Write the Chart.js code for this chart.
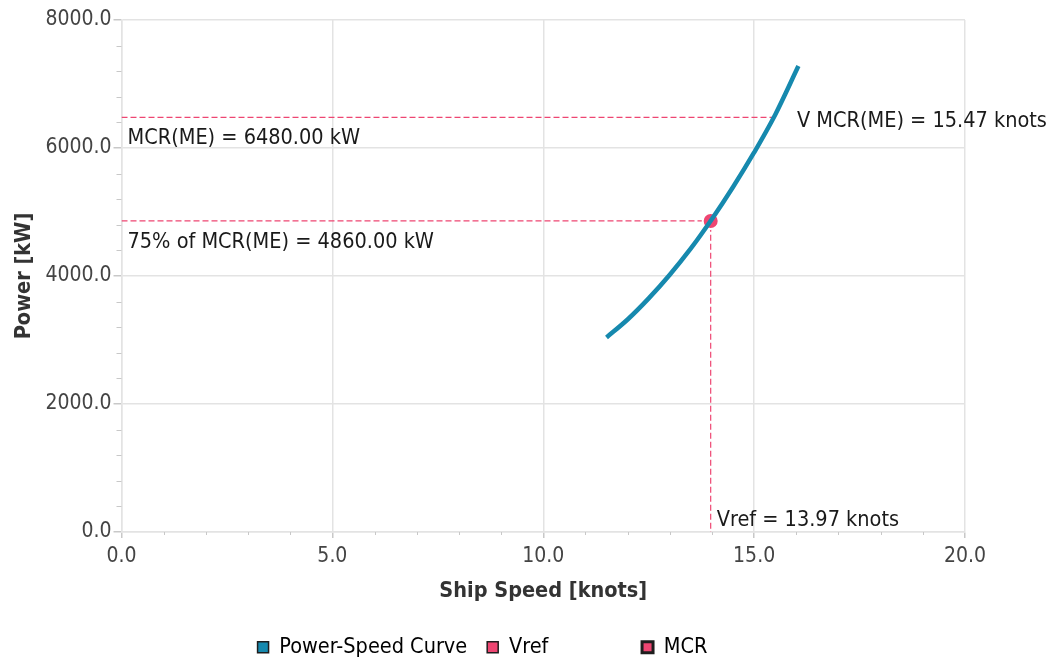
<!DOCTYPE html>
<html>
<head>
<meta charset="utf-8">
<script src="https://cdn.jsdelivr.net/npm/chart.js@4"></script>
<style>
  html, body { margin: 0; padding: 0; background: #fff; }
  canvas { display: block; }
</style>
</head>
<body>
<canvas id="powerChart" width="1054" height="662"></canvas>
<script>
// Power-speed curve
const curveSpeed = [11.5, 12.0, 12.5, 13.0, 13.5, 14.0, 14.5, 15.0, 15.5, 16.05];
const curvePower = [3040, 3320, 3650, 4020, 4430, 4890, 5390, 5930, 6520, 7280];

// Reference points
const mcrPower = 6480;
const mcrSpeed = 15.47;
const vrefPower = 4860; // 75% of MCR
const vrefSpeed = 13.97;

const xTicks = [0, 5, 10, 15, 20];
const yTicks = [0, 2000, 4000, 6000, 8000];
const legendLabels = ['Power-Speed Curve', 'Vref', 'MCR'];

const FONT = '"DejaVu Sans Condensed", "DejaVu Sans", sans-serif';
const blue = '#1689ae';
const pink = '#ee4672';
const gridColor = '#e3e3e3';
const tickColor = '#c8c8c8';
const labelColor = '#444';

// short minor tick marks between the labelled ones
const minorTicks = {
  id: 'minorTicks',
  afterDraw(chart) {
    const { ctx, scales: { x, y }, chartArea: a } = chart;
    ctx.save();
    ctx.strokeStyle = tickColor;
    ctx.lineWidth = 1;
    ctx.beginPath();
    for (let v = x.min; v <= x.max; v += 1) {
      if (v % 5 === 0) continue;
      const px = Math.round(x.getPixelForValue(v)) + 0.5;
      ctx.moveTo(px, a.bottom);
      ctx.lineTo(px, a.bottom + 3);
    }
    for (let v = y.min; v <= y.max; v += 400) {
      if (v % 2000 === 0) continue;
      const py = Math.round(y.getPixelForValue(v)) + 0.5;
      ctx.moveTo(a.left - 5, py);
      ctx.lineTo(a.left, py);
    }
    ctx.stroke();
    ctx.restore();
  }
};

// text next to the dashed reference lines
const refLabels = {
  id: 'refLabels',
  afterDatasetsDraw(chart) {
    const { ctx, scales: { x, y } } = chart;
    ctx.save();
    ctx.font = '21.5px ' + FONT;
    ctx.fillStyle = '#1a1a1a';
    ctx.textBaseline = 'middle';
    ctx.textAlign = 'left';
    const x0 = x.getPixelForValue(0);
    ctx.fillText('MCR(ME) = ' + mcrPower.toFixed(2) + ' kW', x0 + 6, y.getPixelForValue(mcrPower) + 21);
    ctx.fillText('75% of MCR(ME) = ' + vrefPower.toFixed(2) + ' kW', x0 + 6, y.getPixelForValue(vrefPower) + 21);
    ctx.fillText('V MCR(ME) = ' + mcrSpeed.toFixed(2) + ' knots', x.getPixelForValue(mcrSpeed) + 23, y.getPixelForValue(mcrPower) + 4);
    ctx.fillText('Vref = ' + vrefSpeed.toFixed(2) + ' knots', x.getPixelForValue(vrefSpeed) + 6, y.getPixelForValue(0) - 12);
    ctx.restore();
  }
};

new Chart(document.getElementById('powerChart'), {
  type: 'scatter',
  data: {
    datasets: [
      {
        label: legendLabels[0],
        data: curveSpeed.map((s, i) => ({ x: s, y: curvePower[i] })),
        showLine: true,
        borderColor: blue,
        borderWidth: 4.5,
        pointRadius: 0,
        cubicInterpolationMode: 'monotone'
      },
      {
        label: legendLabels[1],
        data: [{ x: 0, y: vrefPower }, { x: vrefSpeed, y: vrefPower }, { x: vrefSpeed, y: 0 }],
        showLine: true,
        borderColor: pink,
        borderWidth: 1.2,
        borderDash: [6, 3],
        pointRadius: ctx => ctx.dataIndex === 1 ? 8 : 0,
        pointBackgroundColor: pink,
        pointBorderColor: '#fff',
        pointBorderWidth: 2
      },
      {
        label: legendLabels[2],
        data: [{ x: 0, y: mcrPower }, { x: mcrSpeed, y: mcrPower }],
        showLine: true,
        borderColor: pink,
        borderWidth: 1.2,
        borderDash: [6, 3],
        pointRadius: 0
      }
    ]
  },
  options: {
    responsive: false,
    animation: false,
    devicePixelRatio: 1,
    layout: { padding: { top: 20, right: 89, bottom: -6, left: 0 } },
    plugins: {
      tooltip: { enabled: false },
      legend: {
        position: 'bottom',
        labels: {
          boxWidth: 11,
          boxHeight: 11,
          padding: 20,
          color: labelColor,
          font: { family: FONT, size: 21.5 },
          generateLabels: () => legendLabels.map((t, i) => ({
            text: i === 1 ? t.padEnd(16) : t,
            fillStyle: i === 0 ? blue : pink,
            strokeStyle: '#1e1e1e',
            lineWidth: i === 2 ? 3 : 1.5,
            hidden: false,
            datasetIndex: i
          }))
        }
      }
    },
    scales: {
      x: {
        type: 'linear',
        min: 0,
        max: 20,
        afterBuildTicks: s => { s.ticks = xTicks.map(v => ({ value: v })); },
        afterFit: s => { s.height = 84.5; },
        grid: { color: gridColor, lineWidth: 1.5, tickLength: 6, tickColor: tickColor },
        border: { color: gridColor, width: 1.5 },
        ticks: { color: labelColor, font: { family: FONT, size: 21 }, padding: 6, maxRotation: 0, callback: v => v.toFixed(1) },
        title: {
          display: true,
          text: 'Ship Speed [knots]',
          color: '#333',
          font: { family: FONT, size: 21.5, weight: 'bold' },
          padding: { top: 0, bottom: 12.5 }
        }
      },
      y: {
        type: 'linear',
        min: 0,
        max: 8000,
        afterBuildTicks: s => { s.ticks = yTicks.map(v => ({ value: v })); },
        afterFit: s => { s.width = 121.5; },
        grid: { color: gridColor, lineWidth: 1.5, tickLength: 8, tickColor: tickColor },
        border: { color: gridColor, width: 1.5 },
        ticks: { color: labelColor, font: { family: FONT, size: 21 }, padding: 2, callback: v => v.toFixed(1) },
        title: {
          display: true,
          text: 'Power [kW]',
          color: '#333',
          font: { family: FONT, size: 21.5, weight: 'bold' },
          padding: { top: 12, bottom: 0 }
        }
      }
    }
  },
  plugins: [minorTicks, refLabels]
});
</script>
</body>
</html>
